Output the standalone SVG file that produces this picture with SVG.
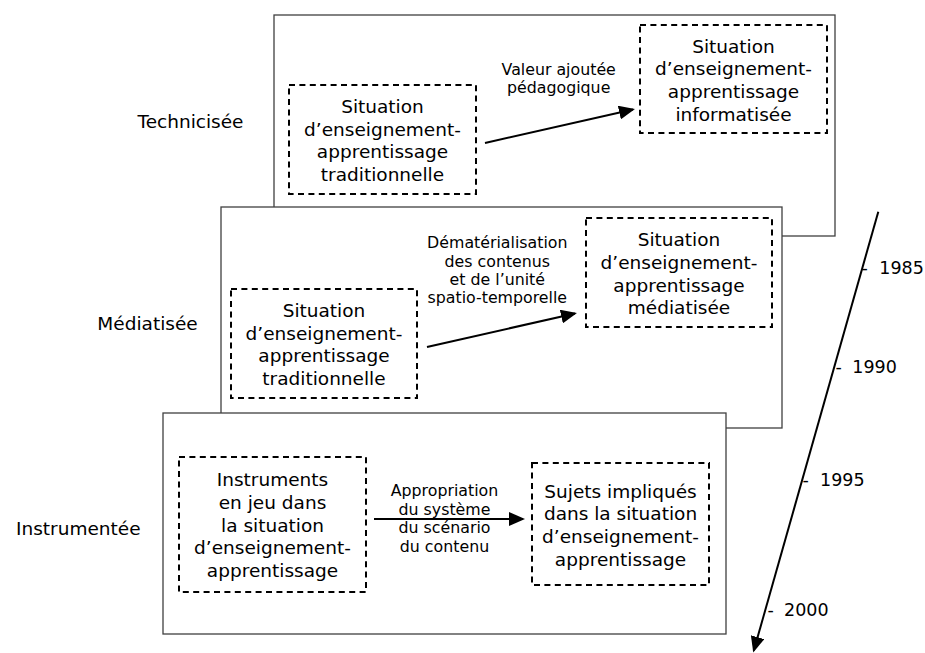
<svg xmlns="http://www.w3.org/2000/svg" width="925" height="653" viewBox="0 0 925 653">
<style>
.frame{fill:#fff;stroke:#404040;stroke-width:1.3}
.box{fill:none;stroke:#000;stroke-width:2;stroke-dasharray:6 4.4}
.t{font-family:"DejaVu Sans",Verdana,sans-serif;font-size:18.5px;fill:#000;text-anchor:middle}
.s{font-family:"DejaVu Sans",Verdana,sans-serif;font-size:15.8px;fill:#000;text-anchor:middle}
.y{font-family:"DejaVu Sans",Verdana,sans-serif;font-size:17.5px;fill:#000}
.arr{stroke:#000;stroke-width:2;fill:none;marker-end:url(#ah)}
</style>
<defs>
<marker id="ah" markerWidth="16" markerHeight="14" refX="14" refY="7" orient="auto" markerUnits="userSpaceOnUse">
<path d="M0,0 L16,7 L0,14 z" fill="#000"/>
</marker>
</defs>
<rect x="0" y="0" width="925" height="653" fill="#fff"/>

<g id="label-technicisee"><text class="t" x="190.5" y="128.3">Technicisée</text></g>
<g id="label-mediatisee"><text class="t" x="147.5" y="330">Médiatisée</text></g>
<g id="label-instrumentee"><text class="t" x="78.3" y="535">Instrumentée</text></g>

<g id="frame-technicisee">
<rect class="frame" x="274" y="15" width="561" height="221"/>
<g id="t-trad">
<rect class="box" x="289" y="85" width="187" height="109"/>
<text class="t" x="382.5" y="113">Situation</text>
<text class="t" x="382.5" y="135.7">d’enseignement-</text>
<text class="t" x="382.5" y="158.3">apprentissage</text>
<text class="t" x="382.5" y="181">traditionnelle</text>
</g>
<g id="t-info">
<rect class="box" x="640" y="25" width="187" height="108"/>
<text class="t" x="733.5" y="52.5">Situation</text>
<text class="t" x="733.5" y="75.2">d’enseignement-</text>
<text class="t" x="733.5" y="97.8">apprentissage</text>
<text class="t" x="733.5" y="120.5">informatisée</text>
</g>
<g id="t-label">
<text class="s" x="558.7" y="75">Valeur ajoutée</text>
<text class="s" x="558.7" y="92.7">pédagogique</text>
</g>
</g>

<g id="frame-mediatisee">
<rect class="frame" x="221" y="207" width="561" height="221"/>
<g id="m-trad">
<rect class="box" x="231" y="289" width="186" height="109"/>
<text class="t" x="324" y="317">Situation</text>
<text class="t" x="324" y="339.6">d’enseignement-</text>
<text class="t" x="324" y="362.4">apprentissage</text>
<text class="t" x="324" y="385">traditionnelle</text>
</g>
<g id="m-med">
<rect class="box" x="586" y="218" width="186" height="109"/>
<text class="t" x="679" y="246.3">Situation</text>
<text class="t" x="679" y="269">d’enseignement-</text>
<text class="t" x="679" y="291.7">apprentissage</text>
<text class="t" x="679" y="314.3">médiatisée</text>
</g>
<g id="m-label">
<text class="s" x="497.3" y="248.3">Dématérialisation</text>
<text class="s" x="497.3" y="266.7">des contenus</text>
<text class="s" x="497.3" y="285">et de l’unité</text>
<text class="s" x="497.3" y="303.3">spatio-temporelle</text>
</g>
</g>

<g id="frame-instrumentee">
<rect class="frame" x="163" y="413" width="563" height="221"/>
<g id="i-instr">
<rect class="box" x="179" y="457" width="187" height="135"/>
<text class="t" x="272.5" y="486.3">Instruments</text>
<text class="t" x="272.5" y="509">en jeu dans</text>
<text class="t" x="272.5" y="531.7">la situation</text>
<text class="t" x="272.5" y="554.4">d’enseignement-</text>
<text class="t" x="272.5" y="577">apprentissage</text>
</g>
<g id="i-sujets">
<rect class="box" x="532" y="463" width="177" height="122"/>
<text class="t" x="620.5" y="497.5">Sujets impliqués</text>
<text class="t" x="620.5" y="520.2">dans la situation</text>
<text class="t" x="620.5" y="542.8">d’enseignement-</text>
<text class="t" x="620.5" y="565.5">apprentissage</text>
</g>
<g id="i-label">
<text class="s" x="444.5" y="496">Appropriation</text>
<text class="s" x="444.5" y="514.5">du système</text>
<text class="s" x="444.5" y="533">du scénario</text>
<text class="s" x="444.5" y="551.5">du contenu</text>
</g>
</g>

<g id="connectors">
<line class="arr" x1="485" y1="143" x2="633" y2="109.4"/>
<line class="arr" x1="427" y1="347" x2="575" y2="313.4"/>
<line class="arr" x1="374" y1="519" x2="523" y2="519"/>
<line class="arr" x1="878.3" y1="211.7" x2="753.8" y2="650.6"/>
</g>

<g id="timeline-labels">
<text class="y" x="861.5" y="274">-<tspan x="879.3">1985</tspan></text>
<text class="y" x="835.5" y="373.3">-<tspan x="852.3">1990</tspan></text>
<text class="y" x="802.5" y="485.7">-<tspan x="820">1995</tspan></text>
<text class="y" x="767.5" y="616">-<tspan x="784">2000</tspan></text>
</g>
</svg>
